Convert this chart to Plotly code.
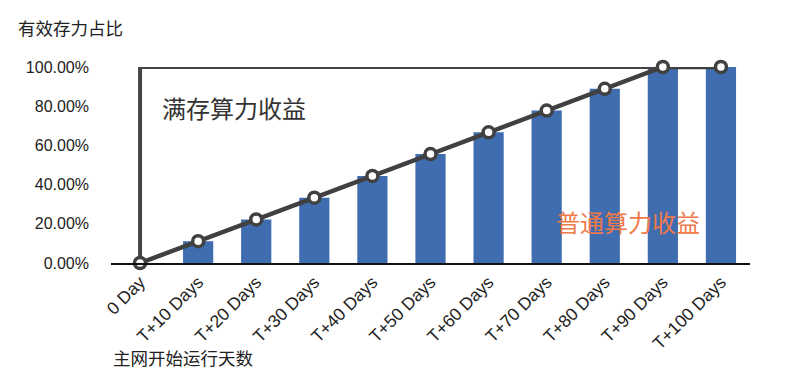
import plotly.graph_objects as go

categories = ["0 Day", "T+10 Days", "T+20 Days", "T+30 Days", "T+40 Days", "T+50 Days",
              "T+60 Days", "T+70 Days", "T+80 Days", "T+90 Days", "T+100 Days"]
normal_values = [0, 11.11, 22.22, 33.33, 44.44, 55.56, 66.67, 77.78, 88.89, 100, 100]
full_x = ["0 Day", "0 Day", "T+100 Days"]
full_y = [0, 100, 100]
ytick_vals = [0, 20, 40, 60, 80, 100]
ytick_text = ["0.00%", "20.00%", "40.00%", "60.00%", "80.00%", "100.00%"]

FONT = "Liberation Sans, Arial, Noto Sans CJK SC, sans-serif"
CJK = "Noto Sans CJK SC, sans-serif"

# page body has an 8px margin, so shift plot area accordingly
L, T = 111 - 8, 67 - 8
PW, PH = 639, 196

fig = go.Figure()
fig.add_trace(go.Bar(x=categories, y=normal_values, marker=dict(color="#3f6db0", line=dict(width=0)),
                     width=0.52, hoverinfo="skip"))
fig.add_trace(go.Scatter(x=full_x, y=full_y, mode="lines",
                         line=dict(color="#444444", width=4), cliponaxis=False))
fig.add_trace(go.Scatter(x=categories, y=normal_values, mode="lines+markers",
                         line=dict(color="#404040", width=4.5),
                         marker=dict(size=11, color="white", line=dict(color="#404040", width=3.5)),
                         cliponaxis=False))

fig.update_layout(
    width=792, height=382,
    margin=dict(l=L, r=792 - L - PW, t=T, b=382 - T - PH, autoexpand=False),
    paper_bgcolor="white", plot_bgcolor="white",
    showlegend=False,
    font=dict(family=FONT, size=16, color="#222222"),
    xaxis=dict(type="category", range=[-0.5, 10.5], tickangle=-45, showgrid=False,
               showline=True, linecolor="#111111", linewidth=2, ticks="",
               tickfont=dict(size=17.5, color="#222222"), fixedrange=True, automargin=False),
    yaxis=dict(range=[0, 100], tickvals=ytick_vals, ticktext=ytick_text, showgrid=False,
               showline=False, zeroline=False, ticks="", ticklabelstandoff=21,
               tickfont=dict(size=16, color="#222222"), fixedrange=True, automargin=False),
    annotations=[
        dict(text="有效存力占比", xref="paper", yref="paper", x=(16 - 111) / PW, y=(263 - 28) / PH,
             xanchor="left", yanchor="middle", showarrow=False,
             font=dict(family=CJK, size=17.5, color="#222222")),
        dict(text="主网开始运行天数", xref="paper", yref="paper", x=(111 - 111) / PW, y=-(357 - 263) / PH,
             xanchor="left", yanchor="middle", showarrow=False,
             font=dict(family=CJK, size=17.5, color="#222222")),
        dict(text="满存算力收益", xref="paper", yref="paper", x=(160 - 111) / PW, y=(263 - 107) / PH,
             xanchor="left", yanchor="middle", showarrow=False,
             font=dict(family=CJK, size=24, color="#333333")),
        dict(text="普通算力收益", xref="paper", yref="paper", x=(554 - 111) / PW, y=(263 - 221) / PH,
             xanchor="left", yanchor="middle", showarrow=False,
             font=dict(family=CJK, size=24, color="#f07a4a")),
    ],
)

fig.write_html("out.html")
